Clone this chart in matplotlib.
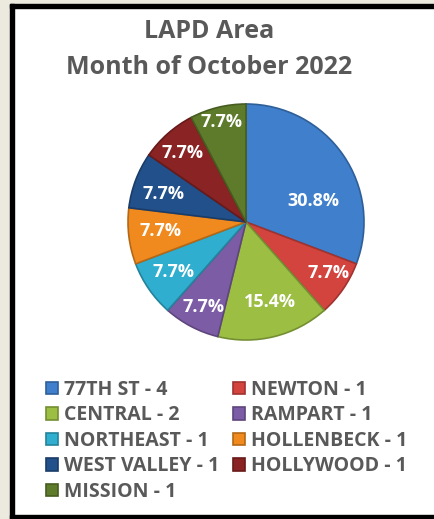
import numpy as np
import matplotlib
matplotlib.use("Agg")
import matplotlib.pyplot as plt
from matplotlib.patches import Rectangle

# data
areas = ["77TH ST", "NEWTON", "CENTRAL", "RAMPART", "NORTHEAST",
         "HOLLENBECK", "WEST VALLEY", "HOLLYWOOD", "MISSION"]
counts = [4, 1, 2, 1, 1, 1, 1, 1, 1]
title_lines = ["LAPD Area", "Month of October 2022"]

colors = ["#3F7FCB", "#D4443F", "#9BBE43", "#7D5CA6", "#2FAECF",
          "#F08A1E", "#22508A", "#8A2323", "#5E7B2B"]
# label radius (fraction of pie radius) and angle shift per slice
label_r = [0.60, 0.82, 0.71, 0.81, 0.75, 0.73, 0.74, 0.79, 0.87]
label_shift = [-17, 3, 3, 1, 0, -1, 2, 1, 0]

W, H = 435, 519
fig = plt.figure(figsize=(W / 100, H / 100), dpi=100)
fig.patch.set_facecolor("white")

# frame: beige margin + black border
beige = "#ECE9DF"
fig.patches.append(Rectangle((0, 0), 10 / W, 1, transform=fig.transFigure, color=beige, zorder=0))
fig.patches.append(Rectangle((0, 1 - 4 / H), 1, 4 / H, transform=fig.transFigure, color=beige, zorder=0))
fig.patches.append(Rectangle((10 / W, 0), 4 / W, 1 - 4 / H, transform=fig.transFigure, color="black", zorder=1))
fig.patches.append(Rectangle((10 / W, 1 - 8 / H), 1, 4 / H, transform=fig.transFigure, color="black", zorder=1))
fig.patches.append(Rectangle((10 / W, 0), 1, 4 / H, transform=fig.transFigure, color="black", zorder=1))

font = ["Open Sans", "DejaVu Sans"]
gray = "#595959"

fig.text(209 / W, 1 - 32 / H, title_lines[0], ha="center", va="center",
         fontsize=18, fontweight="bold", color=gray, family=font)
fig.text(209 / W, 1 - 68 / H, title_lines[1], ha="center", va="center",
         fontsize=18, fontweight="bold", color=gray, family=font)

# pie
cx, cy, r = 246, 222, 118
ax = fig.add_axes([(cx - r) / W, (H - cy - r) / H, 2 * r / W, 2 * r / H])
wedges, _ = ax.pie(counts, colors=colors, startangle=90, counterclock=False,
                   radius=1.0, wedgeprops=dict(linewidth=1.2))
for w, c in zip(wedges, colors):
    rgb = np.array(matplotlib.colors.to_rgb(c))
    w.set_edgecolor(tuple(rgb * 0.75))

total = sum(counts)
for i, w in enumerate(wedges):
    mid = (w.theta1 + w.theta2) / 2 + label_shift[i]
    a = np.deg2rad(mid)
    pct = 100 * counts[i] / total
    ax.text(label_r[i] * np.cos(a), label_r[i] * np.sin(a), f"{pct:.1f}%",
            ha="center", va="center", color="white", fontsize=13,
            fontweight="bold", family=font)
ax.set_xlim(-1, 1)
ax.set_ylim(-1, 1)
ax.set_aspect("equal")
ax.axis("off")

# legend, row-major order in 2 columns
labels = [f"{a} - {n}" for a, n in zip(areas, counts)]
order = [0, 2, 4, 6, 8, 1, 3, 5, 7]
handles = [wedges[i] for i in order]
leg_labels = [labels[i] for i in order]
leg = fig.legend(handles, leg_labels, ncol=2, loc="upper left",
                 bbox_to_anchor=(46 / W, 1 - 380 / H), frameon=False,
                 prop=dict(family=font, weight="bold", size=14),
                 handlelength=0.62, handleheight=0.62, handletextpad=0.3,
                 columnspacing=0.7, labelspacing=0.28, borderaxespad=0,
                 borderpad=0)
for t in leg.get_texts():
    t.set_color(gray)

fig.savefig("out.png", dpi=100, facecolor=fig.get_facecolor())
